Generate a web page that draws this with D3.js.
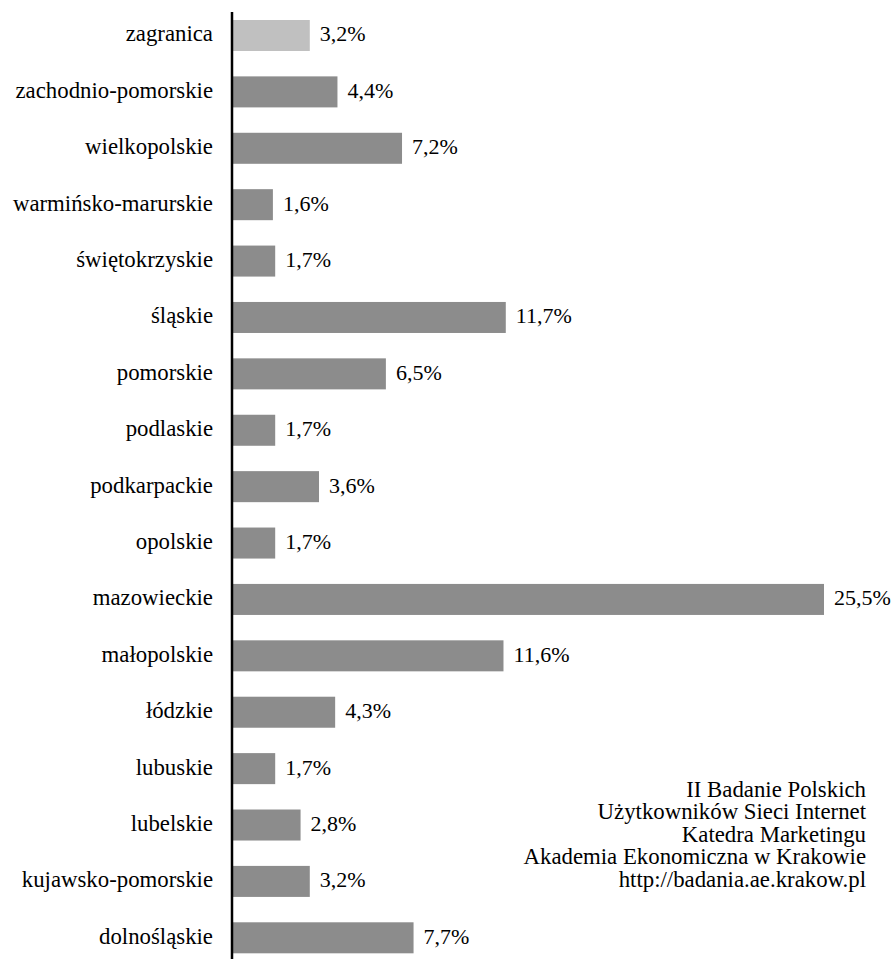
<!DOCTYPE html>
<html>
<head>
<meta charset="utf-8">
<script src="https://cdn.jsdelivr.net/npm/d3@7"></script>
<style>
  html, body { margin: 0; padding: 0; background: #fff; }
  svg { display: block; font-family: 'Liberation Serif', 'Times New Roman', serif; }
</style>
</head>
<body>
<svg id="chart" width="893" height="959"></svg>
<script>
const categories = [
  "zagranica", "zachodnio-pomorskie", "wielkopolskie", "warmińsko-marurskie",
  "świętokrzyskie", "śląskie", "pomorskie", "podlaskie", "podkarpackie",
  "opolskie", "mazowieckie", "małopolskie", "łódzkie", "lubuskie",
  "lubelskie", "kujawsko-pomorskie", "dolnośląskie"
];
const values = [3.2, 4.4, 7.2, 1.6, 1.7, 11.7, 6.5, 1.7, 3.6, 1.7, 25.5, 11.6, 4.3, 1.7, 2.8, 3.2, 7.7];
const valueLabels = ["3,2%", "4,4%", "7,2%", "1,6%", "1,7%", "11,7%", "6,5%", "1,7%", "3,6%", "1,7%", "25,5%", "11,6%", "4,3%", "1,7%", "2,8%", "3,2%", "7,7%"];
const highlightCategories = ["zagranica"];
const footerLines = [
  "II Badanie Polskich",
  "Użytkowników Sieci Internet",
  "Katedra Marketingu",
  "Akademia Ekonomiczna w Krakowie",
  "http://badania.ae.krakow.pl"
];

const FONT = "'Liberation Serif', 'Times New Roman', serif";
const svg = d3.select("#chart");
const axisX = 232;

const x = d3.scaleLinear().domain([0, 25.5]).range([236, 824]);
const y = d3.scaleBand()
  .domain(categories)
  .range([7.3, 966])
  .paddingInner(0.45)
  .paddingOuter(0.225);

const rows = categories.map((c, i) => ({ cat: c, v: values[i], label: valueLabels[i] }));

// bars
svg.append("g").selectAll("rect")
  .data(rows)
  .join("rect")
  .attr("x", axisX)
  .attr("y", d => y(d.cat))
  .attr("width", d => x(d.v) - axisX)
  .attr("height", y.bandwidth())
  .attr("fill", d => highlightCategories.includes(d.cat) ? "#c0c0c0" : "#8c8c8c");

// category labels
svg.append("g").selectAll("text")
  .data(rows)
  .join("text")
  .attr("x", 213)
  .attr("y", d => y(d.cat) + y.bandwidth() / 2)
  .attr("dy", "0.26em")
  .attr("text-anchor", "end")
  .attr("font-family", FONT)
  .attr("font-size", 22.8)
  .attr("fill", "#000")
  .text(d => d.cat);

// value labels
svg.append("g").selectAll("text")
  .data(rows)
  .join("text")
  .attr("x", d => x(d.v) + 10)
  .attr("y", d => y(d.cat) + y.bandwidth() / 2)
  .attr("dy", "0.27em")
  .attr("font-family", FONT)
  .attr("font-size", 22)
  .attr("fill", "#000")
  .text(d => d.label);

// vertical axis line
svg.append("line")
  .attr("x1", axisX).attr("x2", axisX)
  .attr("y1", 12).attr("y2", 959)
  .attr("stroke", "#000")
  .attr("stroke-width", 2.5);

// footer (one multi-line text block)
const footer = svg.append("text")
  .attr("x", 866)
  .attr("y", 797)
  .attr("text-anchor", "end")
  .attr("font-family", FONT)
  .attr("font-size", 22.8)
  .attr("fill", "#000");
footer.selectAll("tspan")
  .data(footerLines)
  .join("tspan")
  .attr("x", 866)
  .attr("dy", (d, i) => i === 0 ? 0 : 22.4)
  .text(d => d);
</script>
</body>
</html>
